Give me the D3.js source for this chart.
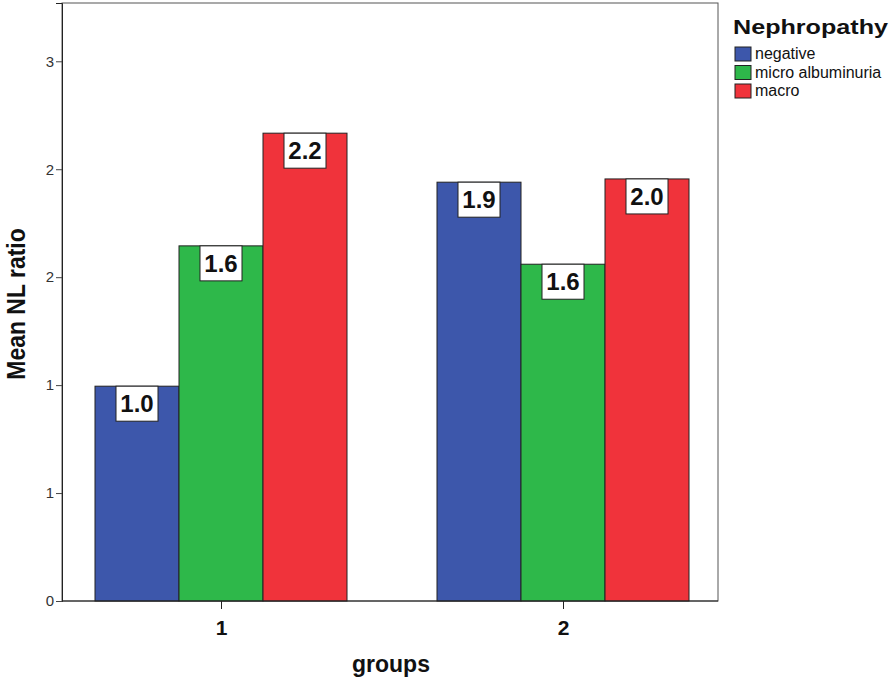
<!DOCTYPE html>
<html lang="en">

<head>
    <meta http-equiv="Content-Type" content="text/html; charset=UTF-8" />
    <script src="https://d3js.org/d3.v7.min.js"></script>
    <title>Mean NL ratio by groups</title>
    <style>
        body { margin: 0; background: #fff; }
        svg { display: block; font-family: "Liberation Sans", Arial, sans-serif; }
    </style>
</head>

<body>
<svg></svg>

<script>
    // Data
    let groups = ["1", "2"];
    let series = ["negative", "micro albuminuria", "macro"];
    let negative = [0.995, 1.94];
    let microAlbuminuria = [1.645, 1.56];
    let macro = [2.167, 1.955];
    let yTickValues = [0, 0.5, 1, 1.5, 2, 2.5];
    let yTickLabels = ["0", "1", "1", "2", "2", "3"];

    let colors = ["#3d57ab", "#2eb84a", "#f0333b"];

    let width = 893, height = 678;
    let plotLeft = 62, plotRight = 718, plotTop = 3, plotBottom = 601;

    let svg = d3.select("svg")
        .attr("width", width)
        .attr("height", height);

    let rows = [];
    groups.forEach((g, i) => {
        [negative, microAlbuminuria, macro].forEach((arr, j) => {
            rows.push({ group: g, series: series[j], value: arr[i], idx: j });
        });
    });

    // Scales
    let x = d3.scalePoint()
        .domain(groups)
        .range([221, 563]);

    let xInner = d3.scaleBand()
        .domain(series)
        .range([-126, 126]);

    let y = d3.scaleLinear()
        .domain([0, 2.77])
        .range([plotBottom, plotTop]);

    // frame
    svg.append("rect")
        .attr("x", plotLeft)
        .attr("y", plotTop)
        .attr("width", plotRight - plotLeft)
        .attr("height", plotBottom - plotTop)
        .attr("fill", "none")
        .attr("stroke", "#555")
        .attr("stroke-width", 1);

    // bars
    let bars = svg.append("g")
        .selectAll("g")
        .data(rows)
        .enter()
        .append("g")
        .attr("transform", d => "translate(" + (x(d.group) + xInner(d.series)) + ",0)");

    bars.append("rect")
        .attr("x", 0)
        .attr("y", d => y(d.value))
        .attr("width", xInner.bandwidth())
        .attr("height", d => plotBottom - y(d.value))
        .attr("fill", d => colors[d.idx])
        .attr("stroke", "#222")
        .attr("stroke-width", 1);

    // value labels
    bars.append("rect")
        .attr("x", xInner.bandwidth() / 2 - 21)
        .attr("y", d => y(d.value))
        .attr("width", 42)
        .attr("height", 35)
        .attr("fill", "#fff")
        .attr("stroke", "#222")
        .attr("stroke-width", 1);

    bars.append("text")
        .attr("x", xInner.bandwidth() / 2)
        .attr("y", d => y(d.value) + 26)
        .attr("text-anchor", "middle")
        .style("font-size", "24px")
        .style("font-weight", "bold")
        .style("fill", "#111")
        .text(d => d.value.toFixed(1));

    // y axis
    let yAxis = svg.append("g")
        .attr("transform", "translate(" + plotLeft + ",0)")
        .call(d3.axisLeft(y)
            .tickValues(yTickValues)
            .tickFormat((d, i) => yTickLabels[i])
            .tickSize(6)
            .tickPadding(2));
    yAxis.select(".domain").attr("stroke", "#222");
    yAxis.selectAll(".tick line").attr("stroke", "#444");
    yAxis.selectAll(".tick text")
        .style("font-size", "15px")
        .style("fill", "#333")
        .style("font-family", "Liberation Sans, Arial, sans-serif");

    // x axis
    let xAxis = svg.append("g")
        .attr("transform", "translate(0," + plotBottom + ")")
        .call(d3.axisBottom(x).tickSize(8).tickPadding(11).tickSizeOuter(0));
    xAxis.select(".domain").remove();
    xAxis.selectAll(".tick line").attr("stroke", "#222");
    xAxis.selectAll(".tick text")
        .style("font-size", "21px")
        .style("font-weight", "bold")
        .style("fill", "#111")
        .style("font-family", "Liberation Sans, Arial, sans-serif");

    svg.append("line")
        .attr("x1", plotLeft).attr("x2", plotRight)
        .attr("y1", plotBottom).attr("y2", plotBottom)
        .attr("stroke", "#222");

    // axis titles
    svg.append("text")
        .attr("x", 391)
        .attr("y", 672)
        .attr("text-anchor", "middle")
        .style("font-size", "23px")
        .style("font-weight", "bold")
        .style("fill", "#111")
        .text("groups");

    svg.append("text")
        .attr("transform", "translate(25,304) scale(1.1,1) rotate(-90)")
        .attr("text-anchor", "middle")
        .style("font-size", "23px")
        .style("font-weight", "bold")
        .style("fill", "#111")
        .text("Mean NL ratio");

    // legend
    let legend = svg.append("g")
        .attr("transform", "translate(729,0)");

    legend.append("text")
        .attr("x", 4)
        .attr("y", 34)
        .attr("textLength", 155)
        .attr("lengthAdjust", "spacingAndGlyphs")
        .style("font-size", "21px")
        .style("font-weight", "bold")
        .style("fill", "#111")
        .text("Nephropathy");

    let items = legend.selectAll(".item")
        .data(series)
        .enter()
        .append("g")
        .attr("class", "item")
        .attr("transform", (d, i) => "translate(6," + (47 + i * 18.5) + ")");

    items.append("rect")
        .attr("width", 16)
        .attr("height", 14)
        .attr("fill", (d, i) => colors[i])
        .attr("stroke", "#222");

    items.append("text")
        .attr("x", 20)
        .attr("y", 12)
        .style("font-size", "16px")
        .style("fill", "#111")
        .text(d => d);
</script>
</body>
</html>
